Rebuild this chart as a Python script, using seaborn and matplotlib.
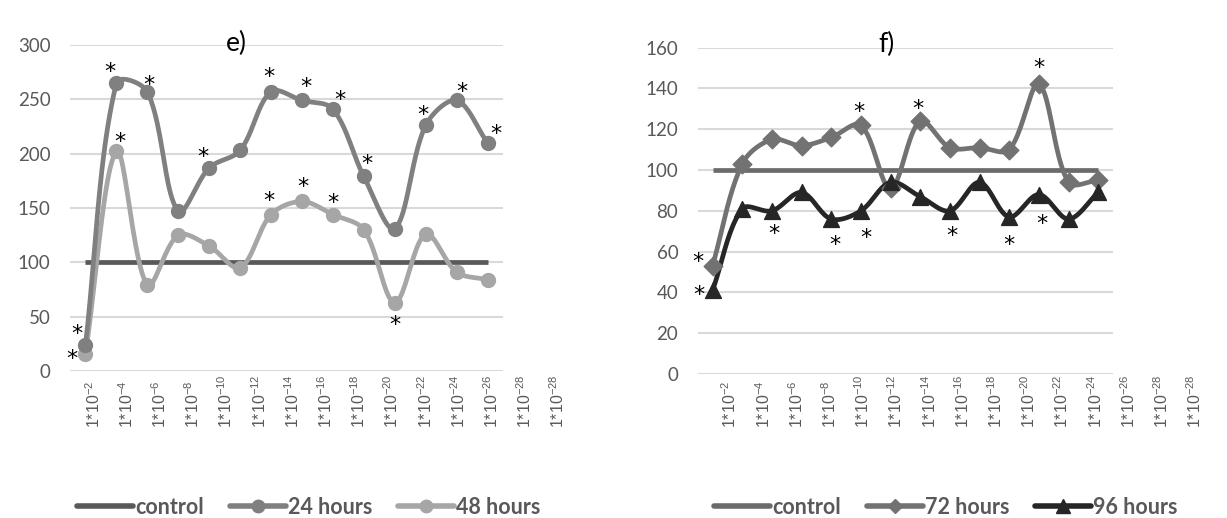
import numpy as np
import seaborn as sns
import matplotlib.pyplot as plt
from matplotlib.lines import Line2D

# concentration labels (the picture shows 15 labels for 14 points)
conc_labels = [r'1*10$^{-%d}$' % p for p in range(2, 30, 2)] + [r'1*10$^{-28}$']

# panel e) values
control_e = [100, 100, 100, 100, 100, 100, 100, 100, 100, 100, 100, 100, 100, 100]
hours_24 = [24, 265, 257, 147, 187, 203, 257, 249, 241, 179, 131, 226, 249, 210]
hours_48 = [16, 202, 79, 125, 115, 95, 144, 156, 144, 130, 63, 126, 91, 84]

# panel f) values
control_f = [100, 100, 100, 100, 100, 100, 100, 100, 100, 100, 100, 100, 100, 100]
hours_72 = [53, 103, 115, 112, 116, 122, 91, 124, 111, 111, 110, 142, 94, 95]
hours_96 = [41, 81, 80, 89, 76, 80, 94, 87, 80, 94, 77, 88, 76, 89]

# significant points (index of the point) for each series
sig_24 = [0, 1, 2, 4, 6, 7, 8, 9, 11, 12, 13]
sig_48 = [0, 1, 6, 7, 8, 10]
sig_72 = [0, 5, 7, 11]
sig_96 = [0, 2, 4, 5, 8, 10, 11]

# star offsets from the point, in pixels (dx, dy up)
off_24 = [(-9, 17), (-6, 17), (2, 13), (-6, 17), (-2, 21), (4, 19), (7, 15),
          (3, 18), (-3, 16), (5, 14), (8, 15)]
off_48 = [(-14, 1), (4, 15), (-2, 20), (1, 20), (0, 18), (0, -16)]
off_72 = [(-15, 10), (-2, 19), (-2, 18), (0, 22)]
off_96 = [(-14, 1), (2, -17), (4, -20), (5, -21), (2, -19), (0, -22), (3, -23)]

TXT = '#595959'
GRID = '#d9d9d9'


def smooth(ax, y, n=24):
    """Excel-like smoothed line, computed in screen space."""
    x = np.arange(len(y), dtype=float)
    pts = ax.transData.transform(np.column_stack([x, np.asarray(y, float)]))
    pad = np.vstack([pts[0], pts, pts[-1]])
    t = np.linspace(0, 1, n)[:, None]
    out = []
    for i in range(len(y) - 1):
        p0, p1, p2, p3 = pad[i], pad[i + 1], pad[i + 2], pad[i + 3]
        d01 = np.hypot(*(p1 - p0))
        d12 = np.hypot(*(p2 - p1))
        d23 = np.hypot(*(p3 - p2))
        f1 = d12 / (d01 + d12) / 3 if d01 + d12 > 0 else 0
        f2 = d12 / (d12 + d23) / 3 if d12 + d23 > 0 else 0
        c1 = p1 + (p2 - p0) * f1
        c2 = p2 - (p3 - p1) * f2
        out.append((1 - t) ** 3 * p1 + 3 * (1 - t) ** 2 * t * c1
                   + 3 * (1 - t) * t ** 2 * c2 + t ** 3 * p2)
    curve = ax.transData.inverted().transform(np.vstack(out))
    return curve[:, 0], curve[:, 1]


def draw_series(ax, values, color, marker, ms, smooth_line=True):
    if smooth_line:
        sx, sy = smooth(ax, values)
    else:
        sx, sy = np.arange(len(values)), np.asarray(values, float)
    sns.lineplot(x=sx, y=sy, ax=ax, color=color, lw=3.4, sort=False,
                 estimator=None, solid_capstyle='butt')
    if marker is not None:
        sns.scatterplot(x=np.arange(len(values)), y=values, ax=ax,
                        color=color, marker=marker, s=ms, edgecolor=color,
                        linewidth=1, zorder=4)


def add_stars(ax, values, idx, offs):
    for i, (dx, dy) in zip(idx, offs):
        ax.annotate('*', (i, values[i]), xytext=(dx * 0.72, (dy - 12) * 0.72),
                    textcoords='offset points', ha='center', va='baseline',
                    fontsize=16, color='black', family='DejaVu Sans',
                    annotation_clip=False)


def style_axes(ax, ymax, step):
    ax.set_xlim(-0.5, 13.5)
    ax.set_ylim(0, ymax)
    ax.set_yticks(np.arange(0, ymax + 1, step))
    ax.set_xticks([])
    ax.yaxis.grid(True, color=GRID, lw=1.5)
    ax.set_axisbelow(True)
    for s in ax.spines.values():
        s.set_visible(False)
    ax.tick_params(axis='y', length=0, pad=14, labelsize=13.5, labelcolor=TXT)
    for lab in ax.get_yticklabels():
        lab.set_family('Lato')


def label_axes(fig, left):
    lab_ax = fig.add_axes([left, 90 / 518, 498 / 1227, 0.01])
    lab_ax.set_xlim(-0.5, 14.5)
    lab_ax.axis('off')
    for i, lab in enumerate(conc_labels):
        lab_ax.text(i, 0, lab, rotation=90, ha='center', va='bottom',
                    transform=lab_ax.get_xaxis_transform(), fontsize=11.5,
                    color=TXT, family='Liberation Sans')


def legend(fig, handles, names, xc):
    fig.legend(handles, names, loc='center', bbox_to_anchor=(xc, 11 / 518),
               ncol=3, frameon=False, handlelength=2.6, handletextpad=0.1,
               columnspacing=1.2,
               prop={'family': 'Lato', 'weight': 'bold', 'size': 15.5},
               labelcolor=TXT)


def main():
    sns.set_theme(style='white')
    plt.rcParams['mathtext.default'] = 'regular'

    fig = plt.figure(figsize=(12.27, 5.18), dpi=100)

    # panel e)
    ax_e = fig.add_axes([70 / 1227, 147 / 518, 433 / 1227, 326 / 518])
    style_axes(ax_e, 300, 50)
    c_ctrl_e, c24, c48 = '#595959', '#808080', '#a6a6a6'
    draw_series(ax_e, control_e, c_ctrl_e, None, 0, smooth_line=False)
    draw_series(ax_e, hours_48, c48, 'o', 100)
    draw_series(ax_e, hours_24, c24, 'o', 100)
    add_stars(ax_e, hours_24, sig_24, off_24)
    add_stars(ax_e, hours_48, sig_48, off_48)
    ax_e.text(0.385, 1.005, 'e)', transform=ax_e.transAxes, ha='center',
              va='center', fontsize=19, color='black', family='Lato')
    label_axes(fig, 76.7 / 1227)
    legend(fig,
           [Line2D([], [], color=c_ctrl_e, lw=4),
            Line2D([], [], color=c24, lw=4, marker='o', ms=9),
            Line2D([], [], color=c48, lw=4, marker='o', ms=9)],
           ['control', '24 hours', '48 hours'], 309 / 1227)

    # panel f)
    ax_f = fig.add_axes([697.7 / 1227, 144 / 518, 415.3 / 1227, 326.3 / 518])
    style_axes(ax_f, 160, 20)
    c_ctrl_f, c72, c96 = '#6b6b6b', '#727272', '#262626'
    draw_series(ax_f, control_f, c_ctrl_f, None, 0, smooth_line=False)
    draw_series(ax_f, hours_72, c72, 'D', 90)
    draw_series(ax_f, hours_96, c96, '^', 130)
    add_stars(ax_f, hours_72, sig_72, off_72)
    add_stars(ax_f, hours_96, sig_96, off_96)
    ax_f.text(0.455, 1.01, 'f)', transform=ax_f.transAxes, ha='center',
              va='center', fontsize=19, color='black', family='Lato')
    label_axes(fig, 713.4 / 1227)
    legend(fig,
           [Line2D([], [], color=c_ctrl_f, lw=4),
            Line2D([], [], color=c72, lw=4, marker='D', ms=7),
            Line2D([], [], color=c96, lw=4, marker='^', ms=10)],
           ['control', '72 hours', '96 hours'], 946 / 1227)

    fig.savefig('out.png', dpi=100)


if __name__ == '__main__':
    main()
